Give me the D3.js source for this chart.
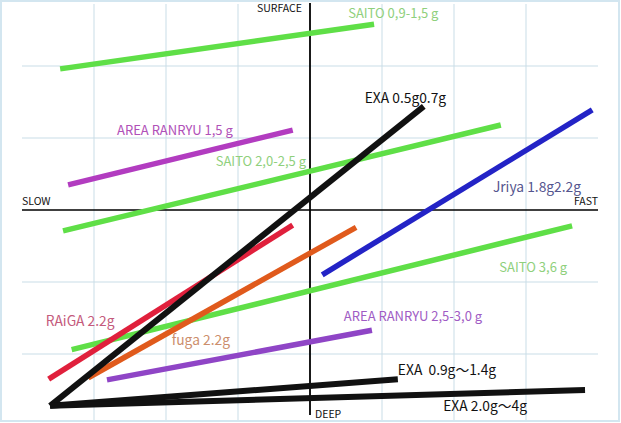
<!DOCTYPE html>
<html>
<head>
<meta charset="utf-8">
<script src="https://cdn.jsdelivr.net/npm/d3@7"></script>
<style>
  body { margin: 0; background: #fff; }
  svg { display: block; }
</style>
</head>
<body>
<svg id="chart"></svg>
<script>
// segments in chart units: x = slow(-) .. fast(+), y = deep(-) .. surface(+)
var names  = ["SAITO 0,9-1,5 g", "AREA RANRYU 1,5 g", "SAITO 2,0-2,5 g", "SAITO 3,6 g",
              "AREA RANRYU 2,5-3,0 g", "RAiGA 2.2g", "fuga 2.2g", "Jriya 1.8g2.2g",
              "EXA 0.5g0.7g", "EXA  0.9g\u301c1.4g", "EXA 2.0g\u301c4g"];
var startX = [-3.47, -3.36, -3.43, -3.31, -2.82, -3.63, -3.08, 0.17, -3.61, -3.61, -3.61];
var startY = [ 1.96,  0.35, -0.29, -1.94, -2.36, -2.35, -2.33, -0.90, -2.72, -2.72, -2.72];
var endX   = [ 0.89, -0.24,  2.65,  3.64,  0.86, -0.24,  0.64, 3.92,  1.58,  1.22,  3.82];
var endY   = [ 2.58,  1.11,  1.18, -0.22, -1.67, -0.21, -0.24, 1.39,  1.44, -2.35, -2.50];
// where each name is written (left edge, baseline)
var labelX = [ 0.53, -2.68, -1.31,  2.63,  0.47, -3.67, -1.92, 2.54,  0.76,  1.22,  1.85];
var labelY = [ 2.67,  1.04,  0.61, -0.86, -1.54, -1.61, -1.88, 0.25,  1.49, -2.29, -2.79];

var gridTicks = [-3, -2, -1, 1, 2, 3];

var lineColors  = ["#5fdf47", "#b23cc0", "#5fdf47", "#5fdf47", "#8f45c6", "#e0203c",
                   "#e05a1c", "#2323c6", "#111111", "#111111", "#111111"];
var labelColors = ["#8fd07c", "#b050b8", "#8fd07c", "#8fd07c", "#a05cc4", "#c45a7c",
                   "#cc8e6c", "#55558e", "#111111", "#111111", "#111111"];

var width = 621, height = 423;
var svg = d3.select("#chart").attr("width", width).attr("height", height);

var x = d3.scaleLinear().domain([-4, 4]).range([22, 598]);
var y = d3.scaleLinear().domain([-3, 3]).range([426, -6]);

// frame
svg.append("rect")
  .attr("x", 1).attr("y", 1).attr("width", width - 3).attr("height", height - 3)
  .attr("fill", "#fff").attr("stroke", "#d3e6f0").attr("stroke-width", 2);

// grid
svg.append("g").selectAll("line.v")
  .data(gridTicks).enter().append("line")
  .attr("x1", function(d) { return x(d); }).attr("x2", function(d) { return x(d); })
  .attr("y1", 4).attr("y2", 420)
  .attr("stroke", "#c9dde7").attr("stroke-width", 1);
svg.append("g").selectAll("line.h")
  .data(gridTicks).enter().append("line")
  .attr("x1", x(-4)).attr("x2", x(4))
  .attr("y1", function(d) { return y(d); }).attr("y2", function(d) { return y(d); })
  .attr("stroke", "#c9dde7").attr("stroke-width", 1);

// axes
svg.append("line").attr("x1", x(-4)).attr("x2", x(4)).attr("y1", y(0)).attr("y2", y(0))
  .attr("stroke", "#000").attr("stroke-width", 1.6);
svg.append("line").attr("x1", x(0)).attr("x2", x(0)).attr("y1", 3).attr("y2", 415)
  .attr("stroke", "#000").attr("stroke-width", 1.8);

var axisFont = "'Noto Sans CJK JP', 'Noto Sans', sans-serif";
var axisText = [
  {t: "SURFACE", x: x(0) - 8, y: 12, a: "end"},
  {t: "SLOW", x: x(-4), y: 205, a: "start"},
  {t: "FAST", x: x(4), y: 205, a: "end"},
  {t: "DEEP", x: x(0) + 5, y: 418, a: "start"}
];
svg.append("g").selectAll("text")
  .data(axisText).enter().append("text")
  .attr("x", function(d) { return d.x; }).attr("y", function(d) { return d.y; })
  .attr("text-anchor", function(d) { return d.a; })
  .style("font-family", axisFont).style("font-size", "10.5px").style("fill", "#111")
  .text(function(d) { return d.t; });

// segments
var idx = d3.range(names.length);
svg.append("g").selectAll("line")
  .data(idx).enter().append("line")
  .attr("x1", function(i) { return x(startX[i]); })
  .attr("y1", function(i) { return y(startY[i]); })
  .attr("x2", function(i) { return x(endX[i]); })
  .attr("y2", function(i) { return y(endY[i]); })
  .attr("stroke", function(i) { return lineColors[i]; })
  .attr("stroke-width", function(i) { return lineColors[i] == "#111111" ? 6 : 5.5; })
  .attr("stroke-linecap", "butt");

// labels: the saito / area names are set a touch tighter than the others
svg.append("g").selectAll("text")
  .data(idx).enter().append("text")
  .attr("x", function(i) { return x(labelX[i]); })
  .attr("y", function(i) { return y(labelY[i]); })
  .style("font-family", axisFont)
  .style("font-size", function(i) { return i < 5 ? "13px" : "13.8px"; })
  .style("fill", function(i) { return labelColors[i]; })
  .style("white-space", "pre")
  .text(function(i) { return names[i]; });
</script>
</body>
</html>
